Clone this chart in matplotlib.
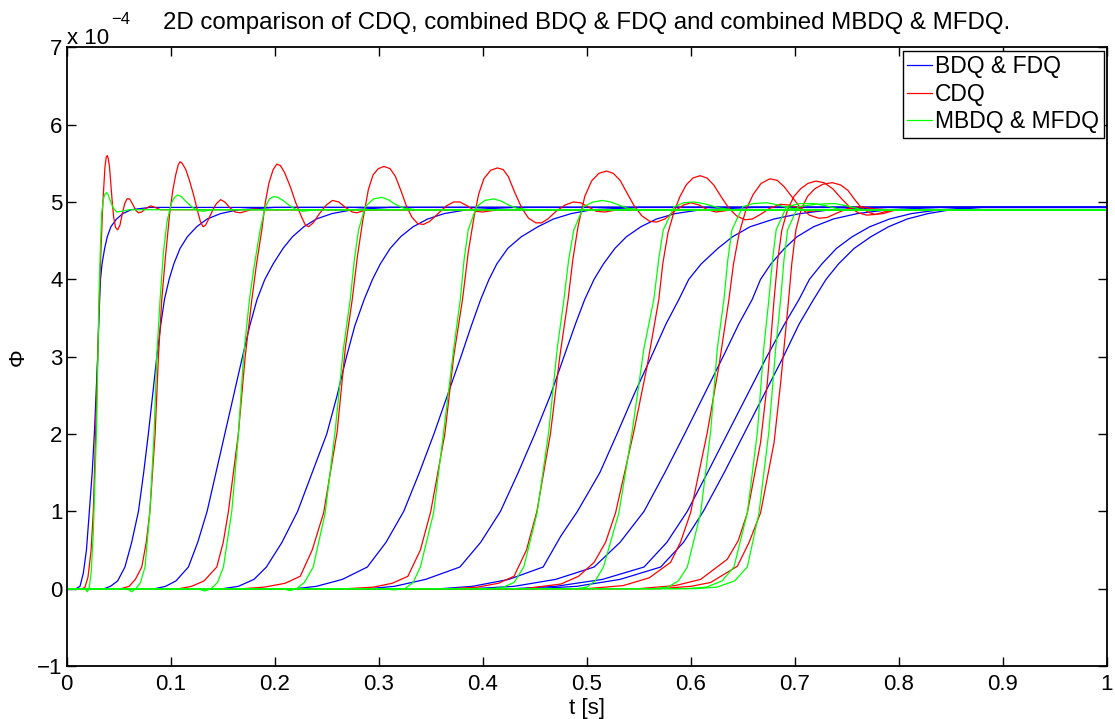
import matplotlib
matplotlib.use('Agg')
import matplotlib.pyplot as plt

plt.rcParams['font.family'] = ['Liberation Sans', 'DejaVu Sans']

# Values; phi is in units of 1e-4
# BDQ & FDQ (blue)
bdq_t = [
    [0, 0.009, 0.0128, 0.016, 0.019, 0.0218, 0.0245, 0.0266, 0.0282, 0.0298, 0.031, 0.0325, 0.034, 0.0365, 0.039, 0.0425, 0.048, 0.054, 0.062, 0.08, 1.0],
    [0, 0.036, 0.042, 0.049, 0.056, 0.0625, 0.069, 0.074, 0.0785, 0.0826, 0.0866, 0.0905, 0.094, 0.0985, 0.103, 0.109, 0.116, 0.125, 0.135, 0.148, 0.165, 0.2, 1.0],
    [0, 0.085, 0.095, 0.105, 0.117, 0.126, 0.135, 0.1435, 0.152, 0.1605, 0.169, 0.176, 0.183, 0.1905, 0.1985, 0.208, 0.217, 0.228, 0.24, 0.255, 0.275, 0.31, 1.0],
    [0, 0.15, 0.165, 0.18, 0.192, 0.207, 0.222, 0.236, 0.25, 0.26, 0.269, 0.277, 0.286, 0.294, 0.3015, 0.311, 0.321, 0.333, 0.347, 0.363, 0.385, 0.43, 1.0],
    [0, 0.22, 0.24, 0.265, 0.289, 0.307, 0.324, 0.339, 0.353, 0.366, 0.379, 0.389, 0.398, 0.406, 0.4135, 0.424, 0.437, 0.453, 0.468, 0.485, 0.505, 0.55, 1.0],
    [0, 0.29, 0.315, 0.345, 0.378, 0.398, 0.417, 0.434, 0.45, 0.465, 0.478, 0.489, 0.498, 0.507, 0.516, 0.527, 0.538, 0.552, 0.567, 0.585, 0.61, 0.66, 1.0],
    [0, 0.36, 0.39, 0.425, 0.458, 0.475, 0.491, 0.5125, 0.529, 0.545, 0.562, 0.576, 0.5885, 0.598, 0.61, 0.626, 0.64, 0.657, 0.68, 0.705, 0.735, 0.79, 1.0],
    [0, 0.39, 0.43, 0.47, 0.507, 0.532, 0.555, 0.575, 0.594, 0.6125, 0.631, 0.646, 0.659, 0.667, 0.677, 0.69, 0.702, 0.718, 0.737, 0.76, 0.79, 0.84, 1.0],
    [0, 0.43, 0.47, 0.515, 0.555, 0.577, 0.5966, 0.616, 0.635, 0.654, 0.673, 0.69, 0.704, 0.714, 0.726, 0.74, 0.755, 0.772, 0.791, 0.812, 0.84, 0.875, 1.0],
    [0, 0.45, 0.49, 0.532, 0.571, 0.593, 0.612, 0.632, 0.651, 0.67, 0.689, 0.704, 0.718, 0.73, 0.742, 0.757, 0.773, 0.79, 0.808, 0.828, 0.85, 0.88, 1.0],
]
bdq_phi = [
    [0, 0, 0.03, 0.2, 0.5, 1.0, 1.5, 2.0, 2.5, 3.0, 3.5, 4.0, 4.2, 4.4, 4.55, 4.68, 4.78, 4.85, 4.9, 4.93, 4.93],
    [0, 0, 0.03, 0.1, 0.28, 0.6, 1.0, 1.5, 2.0, 2.5, 3.0, 3.42, 3.74, 4.0, 4.2, 4.4, 4.55, 4.68, 4.78, 4.85, 4.9, 4.93, 4.93],
    [0, 0, 0.03, 0.1, 0.28, 0.6, 1.0, 1.5, 2.0, 2.5, 3.0, 3.4, 3.74, 4.0, 4.2, 4.4, 4.55, 4.68, 4.78, 4.85, 4.9, 4.93, 4.93],
    [0, 0, 0.03, 0.12, 0.28, 0.6, 1.0, 1.5, 2.0, 2.5, 3.0, 3.4, 3.74, 4.0, 4.2, 4.4, 4.55, 4.68, 4.78, 4.85, 4.9, 4.93, 4.93],
    [0, 0, 0.03, 0.12, 0.28, 0.6, 1.0, 1.5, 2.0, 2.5, 3.0, 3.4, 3.74, 4.0, 4.2, 4.4, 4.55, 4.68, 4.78, 4.85, 4.9, 4.93, 4.93],
    [0, 0, 0.03, 0.12, 0.28, 0.6, 1.0, 1.5, 2.0, 2.5, 3.0, 3.42, 3.74, 4.0, 4.2, 4.4, 4.55, 4.68, 4.78, 4.85, 4.9, 4.93, 4.93],
    [0, 0, 0.03, 0.12, 0.28, 0.68, 1.0, 1.5, 2.0, 2.5, 3.0, 3.42, 3.74, 4.0, 4.2, 4.4, 4.55, 4.68, 4.78, 4.85, 4.9, 4.93, 4.93],
    [0, 0, 0.03, 0.12, 0.28, 0.6, 1.0, 1.5, 2.0, 2.5, 3.0, 3.42, 3.74, 4.0, 4.2, 4.4, 4.55, 4.68, 4.78, 4.85, 4.9, 4.93, 4.93],
    [0, 0, 0.03, 0.12, 0.28, 0.6, 1.0, 1.5, 2.0, 2.5, 3.0, 3.42, 3.74, 4.0, 4.2, 4.4, 4.55, 4.68, 4.78, 4.85, 4.9, 4.93, 4.93],
    [0, 0, 0.03, 0.12, 0.28, 0.6, 1.0, 1.5, 2.0, 2.5, 3.0, 3.42, 3.74, 4.0, 4.2, 4.4, 4.55, 4.68, 4.78, 4.85, 4.9, 4.93, 4.93],
]

# CDQ (red)
cdq_t = [
    [0, 0.015, 0.0176, 0.0205, 0.0235, 0.0256, 0.0278, 0.0298, 0.0315, 0.033, 0.0348, 0.0368, 0.038, 0.039, 0.040, 0.0412, 0.0435, 0.0452, 0.047, 0.049, 0.0512, 0.0535, 0.0558, 0.058, 0.0605, 0.0635, 0.0665, 0.069, 0.072, 0.0765, 0.0808, 0.085, 0.09, 1.0],
    [0, 0.052, 0.06, 0.066, 0.0722, 0.0765, 0.080, 0.085, 0.0882, 0.0914, 0.095, 0.099, 0.102, 0.1048, 0.1072, 0.109, 0.111, 0.1145, 0.118, 0.1218, 0.1255, 0.1285, 0.131, 0.1335, 0.1365, 0.1405, 0.144, 0.148, 0.152, 0.1565, 0.162, 0.167, 0.172, 0.179, 0.19, 1.0],
    [0, 0.108, 0.12, 0.132, 0.1443, 0.1505, 0.1555, 0.165, 0.1716, 0.178, 0.1825, 0.1876, 0.191, 0.1945, 0.1985, 0.202, 0.2055, 0.2095, 0.2149, 0.2205, 0.226, 0.2295, 0.2325, 0.237, 0.243, 0.2495, 0.2555, 0.2615, 0.268, 0.2745, 0.279, 0.286, 0.297, 1.0],
    [0, 0.17, 0.19, 0.21, 0.2245, 0.236, 0.247, 0.26, 0.268, 0.2745, 0.2795, 0.2845, 0.29, 0.2945, 0.2995, 0.305, 0.311, 0.316, 0.3215, 0.3265, 0.332, 0.3375, 0.343, 0.349, 0.357, 0.365, 0.372, 0.378, 0.385, 0.393, 0.4, 0.415, 1.0],
    [0, 0.27, 0.295, 0.313, 0.328, 0.34, 0.350, 0.3635, 0.372, 0.3805, 0.386, 0.3915, 0.396, 0.401, 0.4075, 0.414, 0.4195, 0.4245, 0.4305, 0.4375, 0.444, 0.451, 0.4565, 0.4625, 0.4705, 0.479, 0.487, 0.494, 0.501, 0.509, 0.517, 0.53, 1.0],
    [0, 0.37, 0.395, 0.415, 0.43, 0.442, 0.452, 0.465, 0.474, 0.482, 0.4865, 0.4915, 0.498, 0.5045, 0.5115, 0.519, 0.5255, 0.532, 0.5385, 0.5455, 0.553, 0.5605, 0.567, 0.575, 0.584, 0.593, 0.6, 0.608, 0.616, 0.624, 0.635, 0.65, 1.0],
    [0, 0.44, 0.475, 0.492, 0.507, 0.518, 0.5276, 0.545, 0.558, 0.5692, 0.573, 0.578, 0.584, 0.5895, 0.5955, 0.602, 0.609, 0.6155, 0.622, 0.629, 0.6365, 0.644, 0.652, 0.659, 0.667, 0.676, 0.686, 0.695, 0.704, 0.713, 0.725, 0.74, 1.0],
    [0, 0.5, 0.535, 0.56, 0.5805, 0.59, 0.5997, 0.6158, 0.627, 0.6366, 0.641, 0.6465, 0.653, 0.66, 0.6675, 0.676, 0.683, 0.6895, 0.697, 0.705, 0.714, 0.723, 0.731, 0.741, 0.752, 0.764, 0.776, 0.79, 1.0],
    [0, 0.55, 0.585, 0.6094, 0.635, 0.6455, 0.6543, 0.667, 0.6735, 0.680, 0.6835, 0.6875, 0.693, 0.699, 0.7055, 0.7125, 0.72, 0.728, 0.7365, 0.745, 0.753, 0.761, 0.769, 0.778, 0.788, 0.8, 1.0],
    [0, 0.57, 0.6, 0.619, 0.6447, 0.656, 0.667, 0.680, 0.6863, 0.694, 0.697, 0.701, 0.706, 0.712, 0.719, 0.727, 0.736, 0.744, 0.751, 0.757, 0.763, 0.77, 0.777, 0.785, 0.795, 0.81, 1.0],
]
cdq_phi = [
    [0, 0, 0.02, 0.15, 0.5, 1.0, 2.0, 3.0, 3.8, 4.4, 5.0, 5.45, 5.58, 5.6, 5.56, 5.45, 5.05, 4.8, 4.67, 4.64, 4.7, 4.85, 4.98, 5.04, 5.04, 4.97, 4.89, 4.86, 4.87, 4.92, 4.95, 4.93, 4.9, 4.9],
    [0, 0, 0.03, 0.12, 0.28, 0.6, 1.0, 2.0, 3.0, 3.74, 4.3, 4.85, 5.15, 5.35, 5.48, 5.52, 5.5, 5.42, 5.28, 5.1, 4.9, 4.75, 4.68, 4.7, 4.78, 4.9, 4.98, 5.03, 5.0, 4.93, 4.87, 4.86, 4.88, 4.91, 4.9, 4.9],
    [0, 0, 0.03, 0.1, 0.28, 0.6, 1.0, 2.0, 3.0, 3.74, 4.2, 4.64, 5.0, 5.25, 5.42, 5.49, 5.47, 5.38, 5.2, 4.98, 4.8, 4.7, 4.68, 4.73, 4.85, 4.96, 5.02, 5.0, 4.93, 4.87, 4.86, 4.89, 4.9, 4.9],
    [0, 0, 0.02, 0.07, 0.16, 0.5, 0.98, 2.03, 3.13, 3.74, 4.3, 4.75, 5.16, 5.35, 5.43, 5.46, 5.43, 5.33, 5.14, 4.95, 4.8, 4.72, 4.71, 4.75, 4.85, 4.95, 5.0, 5.0, 4.95, 4.88, 4.87, 4.9, 4.9],
    [0, 0, 0.02, 0.07, 0.16, 0.5, 1.0, 2.0, 3.0, 3.74, 4.35, 4.8, 5.1, 5.3, 5.41, 5.44, 5.42, 5.33, 5.13, 4.92, 4.79, 4.73, 4.73, 4.78, 4.88, 4.96, 5.0, 4.99, 4.94, 4.88, 4.87, 4.9, 4.9],
    [0, 0, 0.02, 0.07, 0.16, 0.5, 1.0, 2.0, 3.0, 3.74, 4.25, 4.68, 5.07, 5.27, 5.37, 5.4, 5.37, 5.28, 5.12, 4.95, 4.82, 4.75, 4.74, 4.78, 4.88, 4.96, 4.99, 4.96, 4.9, 4.87, 4.89, 4.9, 4.9],
    [0, 0, 0.06, 0.16, 0.34, 0.6, 0.98, 2.02, 2.88, 3.74, 4.2, 4.6, 4.88, 5.07, 5.22, 5.31, 5.34, 5.31, 5.22, 5.07, 4.92, 4.82, 4.77, 4.78, 4.84, 4.92, 4.97, 4.96, 4.92, 4.88, 4.89, 4.9, 4.9],
    [0, 0, 0.04, 0.14, 0.34, 0.6, 0.98, 2.02, 2.88, 3.74, 4.2, 4.6, 4.9, 5.1, 5.24, 5.3, 5.28, 5.2, 5.07, 4.93, 4.83, 4.79, 4.8, 4.86, 4.92, 4.94, 4.91, 4.9, 4.9],
    [0, 0, 0.04, 0.12, 0.38, 0.62, 0.98, 1.89, 2.66, 3.74, 4.25, 4.64, 4.9, 5.07, 5.17, 5.24, 5.27, 5.25, 5.17, 5.04, 4.93, 4.86, 4.83, 4.84, 4.88, 4.9, 4.9],
    [0, 0, 0.03, 0.08, 0.29, 0.6, 0.98, 1.89, 2.66, 3.74, 4.2, 4.64, 4.9, 5.07, 5.17, 5.23, 5.25, 5.22, 5.15, 5.04, 4.94, 4.87, 4.84, 4.85, 4.89, 4.9, 4.9],
]

# MBDQ & MFDQ (green)
mbdq_t = [
    [0, 0.0175, 0.0198, 0.0215, 0.0235, 0.0256, 0.0288, 0.031, 0.0325, 0.0337, 0.0355, 0.037, 0.0385, 0.04, 0.0415, 0.0445, 0.048, 0.053, 0.06, 1.0],
    [0, 0.058, 0.0625, 0.0665, 0.071, 0.0753, 0.080, 0.084, 0.0866, 0.0898, 0.093, 0.0965, 0.1005, 0.1035, 0.1065, 0.11, 0.1145, 0.12, 0.126, 0.131, 0.14, 1.0],
    [0, 0.126, 0.1328, 0.139, 0.145, 0.1507, 0.1587, 0.1651, 0.170, 0.1757, 0.18, 0.186, 0.191, 0.195, 0.199, 0.203, 0.208, 0.2145, 0.221, 0.227, 0.24, 1.0],
    [0, 0.208, 0.2145, 0.221, 0.2285, 0.237, 0.2485, 0.258, 0.266, 0.2726, 0.2765, 0.2806, 0.287, 0.295, 0.303, 0.309, 0.316, 0.324, 0.336, 1.0],
    [0, 0.3, 0.315, 0.325, 0.333, 0.340, 0.3527, 0.3624, 0.372, 0.3784, 0.382, 0.386, 0.394, 0.402, 0.4105, 0.418, 0.425, 0.4324, 0.445, 1.0],
    [0, 0.405, 0.418, 0.43, 0.4394, 0.4522, 0.4634, 0.4715, 0.478, 0.4825, 0.4875, 0.497, 0.506, 0.5148, 0.523, 0.531, 0.5387, 0.55, 1.0],
    [0, 0.49, 0.5, 0.508, 0.516, 0.5308, 0.5436, 0.5548, 0.5644, 0.569, 0.5735, 0.584, 0.593, 0.603, 0.612, 0.62, 0.6285, 0.64, 1.0],
    [0, 0.565, 0.578, 0.588, 0.5966, 0.6094, 0.619, 0.6254, 0.6318, 0.6355, 0.6395, 0.65, 0.66, 0.6735, 0.684, 0.695, 0.71, 1.0],
    [0, 0.595, 0.615, 0.63, 0.6414, 0.6543, 0.664, 0.670, 0.675, 0.6785, 0.682, 0.692, 0.705, 0.718, 0.73, 0.745, 1.0],
    [0, 0.605, 0.625, 0.642, 0.6543, 0.6655, 0.675, 0.6815, 0.6863, 0.6895, 0.693, 0.703, 0.72, 0.738, 0.75, 0.765, 1.0],
]
mbdq_phi = [
    [0, 0, -0.04, 0.0, 0.2, 0.72, 2.1, 3.74, 4.45, 4.86, 5.05, 5.11, 5.12, 5.09, 5.03, 4.93, 4.87, 4.88, 4.9, 4.9],
    [0, 0, -0.04, 0.0, 0.08, 0.28, 1.0, 2.0, 3.0, 3.74, 4.35, 4.75, 4.98, 5.06, 5.09, 5.07, 5.01, 4.94, 4.89, 4.88, 4.9, 4.9],
    [0, 0, -0.03, 0.0, 0.08, 0.28, 1.0, 2.0, 3.0, 3.74, 4.15, 4.64, 4.94, 5.04, 5.07, 5.06, 5.02, 4.95, 4.9, 4.88, 4.9, 4.9],
    [0, 0, -0.025, 0.0, 0.08, 0.28, 0.98, 2.03, 3.1, 3.74, 4.25, 4.64, 4.94, 5.04, 5.06, 5.03, 4.97, 4.92, 4.9, 4.9],
    [0, 0, -0.015, 0.0, 0.08, 0.28, 0.98, 2.03, 3.1, 3.74, 4.25, 4.64, 4.94, 5.02, 5.04, 5.01, 4.96, 4.92, 4.9, 4.9],
    [0, 0, 0.01, 0.08, 0.28, 0.98, 2.03, 3.1, 3.74, 4.25, 4.64, 4.94, 5.0, 5.02, 5.0, 4.96, 4.92, 4.9, 4.9],
    [0, 0, 0.02, 0.1, 0.28, 0.98, 2.03, 3.1, 3.74, 4.25, 4.64, 4.94, 4.99, 5.0, 4.98, 4.95, 4.92, 4.9, 4.9],
    [0, 0, 0.02, 0.1, 0.28, 0.98, 2.03, 3.1, 3.74, 4.25, 4.64, 4.94, 4.98, 4.99, 4.96, 4.92, 4.9, 4.9],
    [0, 0, 0.02, 0.1, 0.28, 0.98, 2.03, 3.1, 3.74, 4.25, 4.64, 4.94, 4.98, 4.98, 4.95, 4.9, 4.9],
    [0, 0, 0.02, 0.1, 0.28, 0.98, 2.03, 3.1, 3.74, 4.25, 4.64, 4.94, 4.97, 4.98, 4.95, 4.9, 4.9],
]

series_labels = ['BDQ & FDQ', 'CDQ', 'MBDQ & MFDQ']
series_colors = ['#0000ff', '#ff0000', '#00ff00']
x_ticks = [0, 0.1, 0.2, 0.3, 0.4, 0.5, 0.6, 0.7, 0.8, 0.9, 1.0]
x_tick_labels = ['0', '0.1', '0.2', '0.3', '0.4', '0.5', '0.6', '0.7', '0.8', '0.9', '1']
y_ticks = [-1, 0, 1, 2, 3, 4, 5, 6, 7]
y_tick_labels = ['\u22121', '0', '1', '2', '3', '4', '5', '6', '7']

fig = plt.figure(figsize=(11.15, 7.19), dpi=100)
ax = fig.add_axes([0.0598, 0.0737, 0.933, 0.8605])

handles = []
families = [(bdq_t, bdq_phi), (cdq_t, cdq_phi), (mbdq_t, mbdq_phi)]
for (ts, ps), col in zip(families, series_colors):
    for t, p in zip(ts, ps):
        line, = ax.plot(t, p, color=col, lw=0.9)
    handles.append(line)

ax.set_xlim(0, 1)
ax.set_ylim(-1, 7)
ax.set_xticks(x_ticks)
ax.set_xticklabels(x_tick_labels)
ax.set_yticks(y_ticks)
ax.set_yticklabels(y_tick_labels)
ax.tick_params(direction='in', length=6.5, width=1, top=True, right=True,
               labelsize=16, colors='black')
ax.tick_params(axis='x', pad=6)
ax.tick_params(axis='y', pad=3)
for sp in ax.spines.values():
    sp.set_linewidth(1.3)

ax.set_title('2D comparison of CDQ, combined BDQ & FDQ and combined MBDQ & MFDQ.',
             fontsize=17.3, pad=13)
ax.set_xlabel('t [s]', fontsize=16, labelpad=2)
ax.set_ylabel('\u03a6', fontsize=16, labelpad=6)

# MATLAB style exponent label
fig.text(66.7 / 1115, 1 - 43.5 / 719, 'x 10', fontsize=16, va='baseline')
fig.text(111.5 / 1115, 1 - 24 / 719, '\u22124', fontsize=12, va='baseline')

leg = ax.legend(handles, series_labels, loc='upper right', fontsize=16.5,
                fancybox=False, edgecolor='black', framealpha=1,
                borderaxespad=0.15, handlelength=1.05, handletextpad=0.15,
                labelspacing=0.2, borderpad=0.2)
leg.get_frame().set_linewidth(1.0)

fig.savefig('out.png', dpi=100)
